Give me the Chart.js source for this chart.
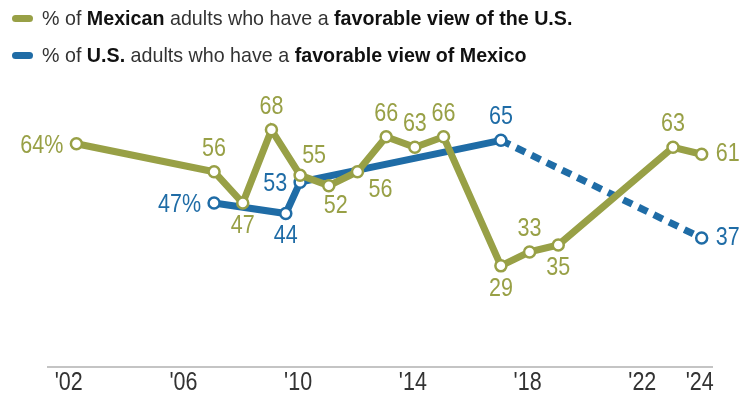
<!DOCTYPE html>
<html>
<head>
<meta charset="utf-8">
<script src="https://cdn.jsdelivr.net/npm/chart.js@4.4.1/dist/chart.umd.min.js"></script>
<style>
  html, body { margin: 0; padding: 0; background: #ffffff; }
  #wrap { position: relative; width: 744px; height: 396px; overflow: hidden; }
  #chart { position: absolute; left: 0; top: 0; }
  .key { position: absolute; left: 0; width: 744px; height: 24px; font-family: "Liberation Sans", Arial, sans-serif;
         font-size: 21px; color: #333333; white-space: nowrap; line-height: 24px; }
  .key b { color: #111111; font-weight: bold; }
  .pill { position: absolute; left: 12px; width: 21px; height: 7px; border-radius: 4px; }
  .key span.txt { position: absolute; left: 42px; top: 0; transform: scaleX(0.937); transform-origin: 0 50%; }
</style>
</head>
<body>
<div id="wrap">
  <canvas id="chart" width="744" height="396"></canvas>
  <div class="key" style="top:6px;">
    <div class="pill" style="top:9px;background:#98a046;"></div>
    <span class="txt">% of <b>Mexican</b> adults who have a <b>favorable view of the U.S.</b></span>
  </div>
  <div class="key" style="top:43px;">
    <div class="pill" style="top:9px;background:#1f6ca6;"></div>
    <span class="txt">% of <b>U.S.</b> adults who have a <b>favorable view of Mexico</b></span>
  </div>
</div>
<script>
// Survey timing (year, with a fraction where fieldwork fell away from the usual spring wave)
const mexicoYears = [2002.2, 2007, 2008, 2009, 2010, 2011, 2012, 2013, 2014, 2015, 2017, 2018, 2019, 2023, 2024];
const mexicoFavUS = [64, 56, 47, 68, 55, 52, 56, 66, 63, 66, 29, 33, 35, 63, 61];

const usYears = [2007, 2009.5, 2010, 2017, 2024];
const usFavMexico = [47, 44, 53, 65, 37];

const tickYears = [2002, 2006, 2010, 2014, 2018, 2022, 2024];
const tickLabels = ["'02", "'06", "'10", "'14", "'18", "'22", "'24"];

// Where each value label sits relative to its point
const mexicoLabelSide = ['left', 'above', 'below', 'above', 'aboveRight', 'belowRight', 'belowRight2',
                         'above', 'above', 'above', 'below', 'above', 'below', 'above', 'right'];
const usLabelSide = ['left', 'below', 'left', 'above', 'right'];

const GREEN = '#98a046';
const BLUE = '#1f6ca6';
const FONT_FAMILY = '"Liberation Sans", Arial, sans-serif';
const LABEL_FONT = '25px ' + FONT_FAMILY;
const SQUEEZE = 0.86; // horizontal condensing of label text

const toPoints = (xs, ys) => xs.map((x, i) => ({ x: x, y: ys[i] }));

// Draws condensed text anchored at (x, y)
function condensedText(ctx, txt, x, y, align) {
  ctx.save();
  ctx.translate(x, y);
  ctx.scale(SQUEEZE, 1);
  ctx.textAlign = align;
  ctx.fillText(txt, 0, 0);
  ctx.restore();
}

const valueLabels = {
  id: 'valueLabels',
  afterDatasetsDraw(chart) {
    const ctx = chart.ctx;
    ctx.save();
    ctx.font = LABEL_FONT;
    ctx.textBaseline = 'middle';
    chart.data.datasets.forEach((ds, di) => {
      const meta = chart.getDatasetMeta(di);
      meta.data.forEach((pt, i) => {
        const v = ds.data[i].y;
        const side = ds.labelSide[i];
        const txt = (i === 0 && side === 'left') ? v + '%' : String(v);
        let x = pt.x, y = pt.y, align = 'center';
        if (side === 'above') { y -= 23; }
        else if (side === 'below') { y += 23; }
        else if (side === 'left') { x -= 13; align = 'right'; y += 2; }
        else if (side === 'right') { x += 14; align = 'left'; }
        else if (side === 'aboveRight') { x += 14; y -= 19; }
        else if (side === 'belowRight') { x += 7; y += 20; }
        else if (side === 'belowRight2') { x += 23; y += 18; }
        ctx.fillStyle = ds.borderColor;
        condensedText(ctx, txt, x, y, align);
      });
    });
    ctx.restore();
  }
};

// Year labels under the axis, placed through the x scale
const yearLabels = {
  id: 'yearLabels',
  afterDraw(chart) {
    const ctx = chart.ctx;
    const xs = chart.scales.x;
    ctx.save();
    ctx.font = LABEL_FONT;
    ctx.textBaseline = 'middle';
    ctx.fillStyle = '#333333';
    xs.ticks.forEach(t => {
      const label = tickLabels[tickYears.indexOf(t.value)];
      condensedText(ctx, label, xs.getPixelForValue(t.value) - 2, xs.top + 16, 'center');
    });
    ctx.restore();
  }
};

new Chart(document.getElementById('chart'), {
  type: 'line',
  data: {
    datasets: [
      {
        label: 'Mexican adults favorable to U.S.',
        data: toPoints(mexicoYears, mexicoFavUS),
        labelSide: mexicoLabelSide,
        borderColor: GREEN,
        backgroundColor: '#ffffff',
        borderWidth: 7,
        pointRadius: 5.5,
        pointBorderWidth: 2.5,
        pointBackgroundColor: '#ffffff',
        pointBorderColor: GREEN,
        tension: 0,
        clip: false
      },
      {
        label: 'U.S. adults favorable to Mexico',
        data: toPoints(usYears, usFavMexico),
        labelSide: usLabelSide,
        borderColor: BLUE,
        backgroundColor: '#ffffff',
        borderWidth: 7,
        pointRadius: 5.5,
        pointBorderWidth: 2.5,
        pointBackgroundColor: '#ffffff',
        pointBorderColor: BLUE,
        tension: 0,
        clip: false,
        segment: {
          borderDash: c => (c.p0DataIndex >= 3 ? [10, 7] : undefined)
        }
      }
    ]
  },
  options: {
    responsive: false,
    animation: false,
    events: [],
    layout: { padding: { left: 48, right: 32, top: 88, bottom: 0 } },
    plugins: { legend: { display: false }, tooltip: { enabled: false } },
    scales: {
      x: {
        type: 'linear',
        min: 2001.21,
        max: 2024.36,
        grid: { display: false, drawTicks: false },
        border: { display: true, color: '#c4c4c4', width: 2 },
        afterBuildTicks: scale => { scale.ticks = tickYears.map(v => ({ value: v })); },
        afterFit: scale => { scale.height = 29; },
        ticks: { display: false, autoSkip: false }
      },
      y: {
        display: false,
        min: 0,
        max: 80
      }
    }
  },
  plugins: [valueLabels, yearLabels]
});
</script>
</body>
</html>
